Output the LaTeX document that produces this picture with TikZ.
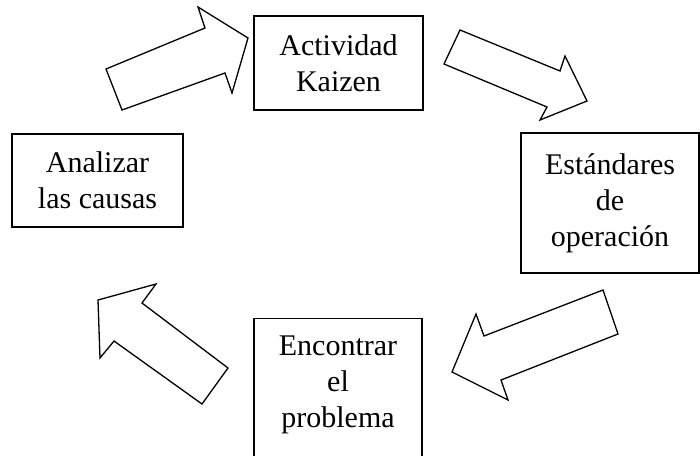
\documentclass[tikz,border=0pt]{standalone}
\usepackage{fontspec}
\setmainfont{Liberation Serif}
\tikzset{
  stagebox/.style={draw=black, line width=1.2pt, fill=white, align=center, inner sep=0pt,
    font={\fontsize{30}{36}\selectfont}},
  stagetext/.style={align=center, inner sep=0pt, font={\fontsize{30}{36}\selectfont}},
  blockarrow/.style={draw=black, line width=1.3pt, fill=white, line join=miter}
}
\begin{document}
\begin{tikzpicture}[x=1pt,y=-1pt]
\useasboundingbox (0,0) rectangle (700,455);
\clip (0,0) rectangle (700,455);
% boxes
\node[stagebox, minimum width=169pt, minimum height=94pt] (kaizen) at (338.5,63) {Actividad\\Kaizen};
\node[stagebox, minimum width=171pt, minimum height=93pt] (analizar) at (97.5,180.5) {Analizar\\las causas};
\node[stagebox, minimum width=178pt, minimum height=140pt] (estandares) at (610,203) {Estándares\\de\\operación};
\node[stagebox, minimum width=168pt, minimum height=170pt, anchor=north] (encontrar) at (338,318) {};
\node[stagetext] (encontrartxt) at (338,385) {Encontrar\\el\\problema};
% block arrows
\draw[blockarrow] (122,110) -- (106,69) -- (205,28) -- (198,7) -- (248,38) -- (232,93) -- (225,73) -- cycle;
\draw[blockarrow] (460,30) -- (560,71) -- (565,56) -- (587,101) -- (540,120) -- (547,107) -- (444,64) -- cycle;
\draw[blockarrow] (603,290) -- (618,334) -- (501,380) -- (508,400) -- (452,372) -- (476,314) -- (484,336) -- cycle;
\draw[blockarrow] (228,368) -- (202,404) -- (114,341) -- (100,358) -- (98,300) -- (156,284) -- (142,303) -- cycle;
\end{tikzpicture}
\end{document}
